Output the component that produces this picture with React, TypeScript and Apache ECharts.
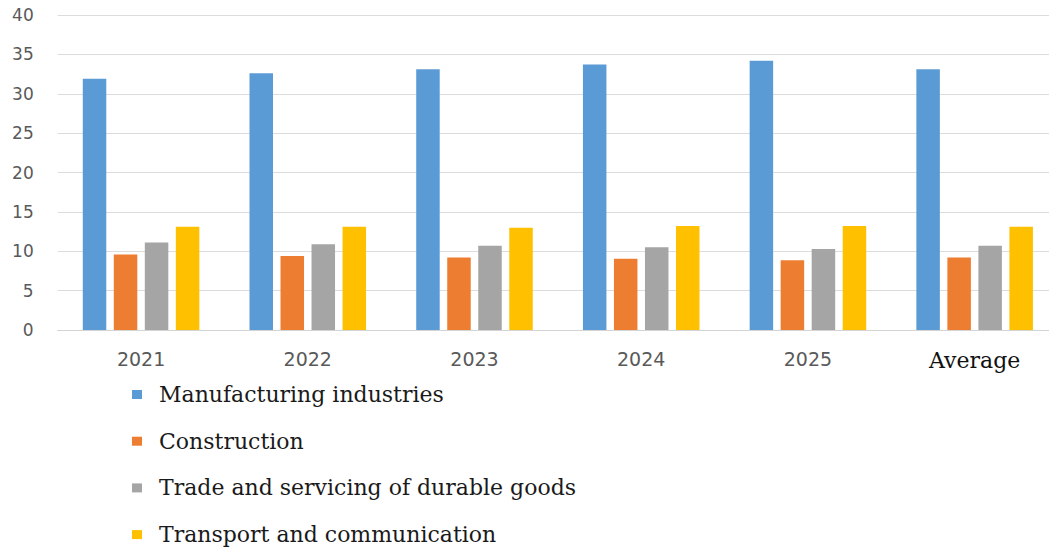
import React, { useEffect, useRef } from "react";
import * as echarts from "echarts";

const categories = ["2021", "2022", "2023", "2024", "2025", "Average"];
const seriesNames = [
  "Manufacturing industries",
  "Construction",
  "Trade and servicing of durable goods",
  "Transport and communication",
];
const manufacturing = [31.9, 32.6, 33.1, 33.7, 34.2, 33.1];
const construction = [9.6, 9.4, 9.2, 9.05, 8.85, 9.2];
const trade = [11.1, 10.9, 10.7, 10.5, 10.3, 10.7];
const transport = [13.1, 13.1, 13.0, 13.2, 13.2, 13.1];
const yTicks = [0, 5, 10, 15, 20, 25, 30, 35, 40];
const colors = ["#5B9BD5", "#ED7D31", "#A5A5A5", "#FFC000"];

export default function App() {
  const ref = useRef<HTMLDivElement>(null);
  useEffect(() => {
    if (!ref.current) return;
    const chart = echarts.init(ref.current, undefined, { renderer: "svg" });
    const values = [manufacturing, construction, trade, transport];
    chart.setOption({
      animation: false,
      backgroundColor: "#ffffff",
      color: colors,
      grid: { left: 57.7, right: 0, top: 15, bottom: 218, containLabel: false },
      legend: {
        orient: "vertical",
        left: 127,
        top: 377,
        height: 171,
        itemWidth: 10,
        itemHeight: 9,
        itemGap: 21.7,
        icon: "rect",
        textStyle: {
          fontFamily: "DejaVu Serif",
          fontSize: 22,
          color: "#1a1a1a",
          padding: [0, 0, 0, 12],
          lineHeight: 25,
        },
        data: seriesNames,
      },
      xAxis: {
        type: "category",
        data: categories.map((c) =>
          c === "Average"
            ? { value: c, textStyle: { fontFamily: "DejaVu Serif", fontSize: 22, color: "#111111" } }
            : c
        ),
        axisLine: { show: true, lineStyle: { color: "#d4d4d4", width: 1 } },
        axisTick: { show: false },
        axisLabel: {
          margin: 19,
          fontFamily: "DejaVu Sans",
          fontSize: 19,
          color: "#595959",
        },
      },
      yAxis: {
        type: "value",
        min: yTicks[0],
        max: yTicks[yTicks.length - 1],
        interval: 5,
        axisLine: { show: false },
        axisTick: { show: false },
        splitLine: { lineStyle: { color: "#dcdcdc", width: 1 } },
        axisLabel: {
          margin: 24,
          fontFamily: "DejaVu Sans",
          fontSize: 17,
          color: "#595959",
        },
      },
      series: seriesNames.map((name, i) => ({
        name,
        type: "bar",
        data: values[i],
        barWidth: 23.5,
        barGap: "32%",
        itemStyle: { color: colors[i] },
      })),
    });
    return () => chart.dispose();
  }, []);
  return (
    <div
      ref={ref}
      style={{ position: "fixed", left: 0, top: 0, width: 1058, height: 548 }}
    />
  );
}
